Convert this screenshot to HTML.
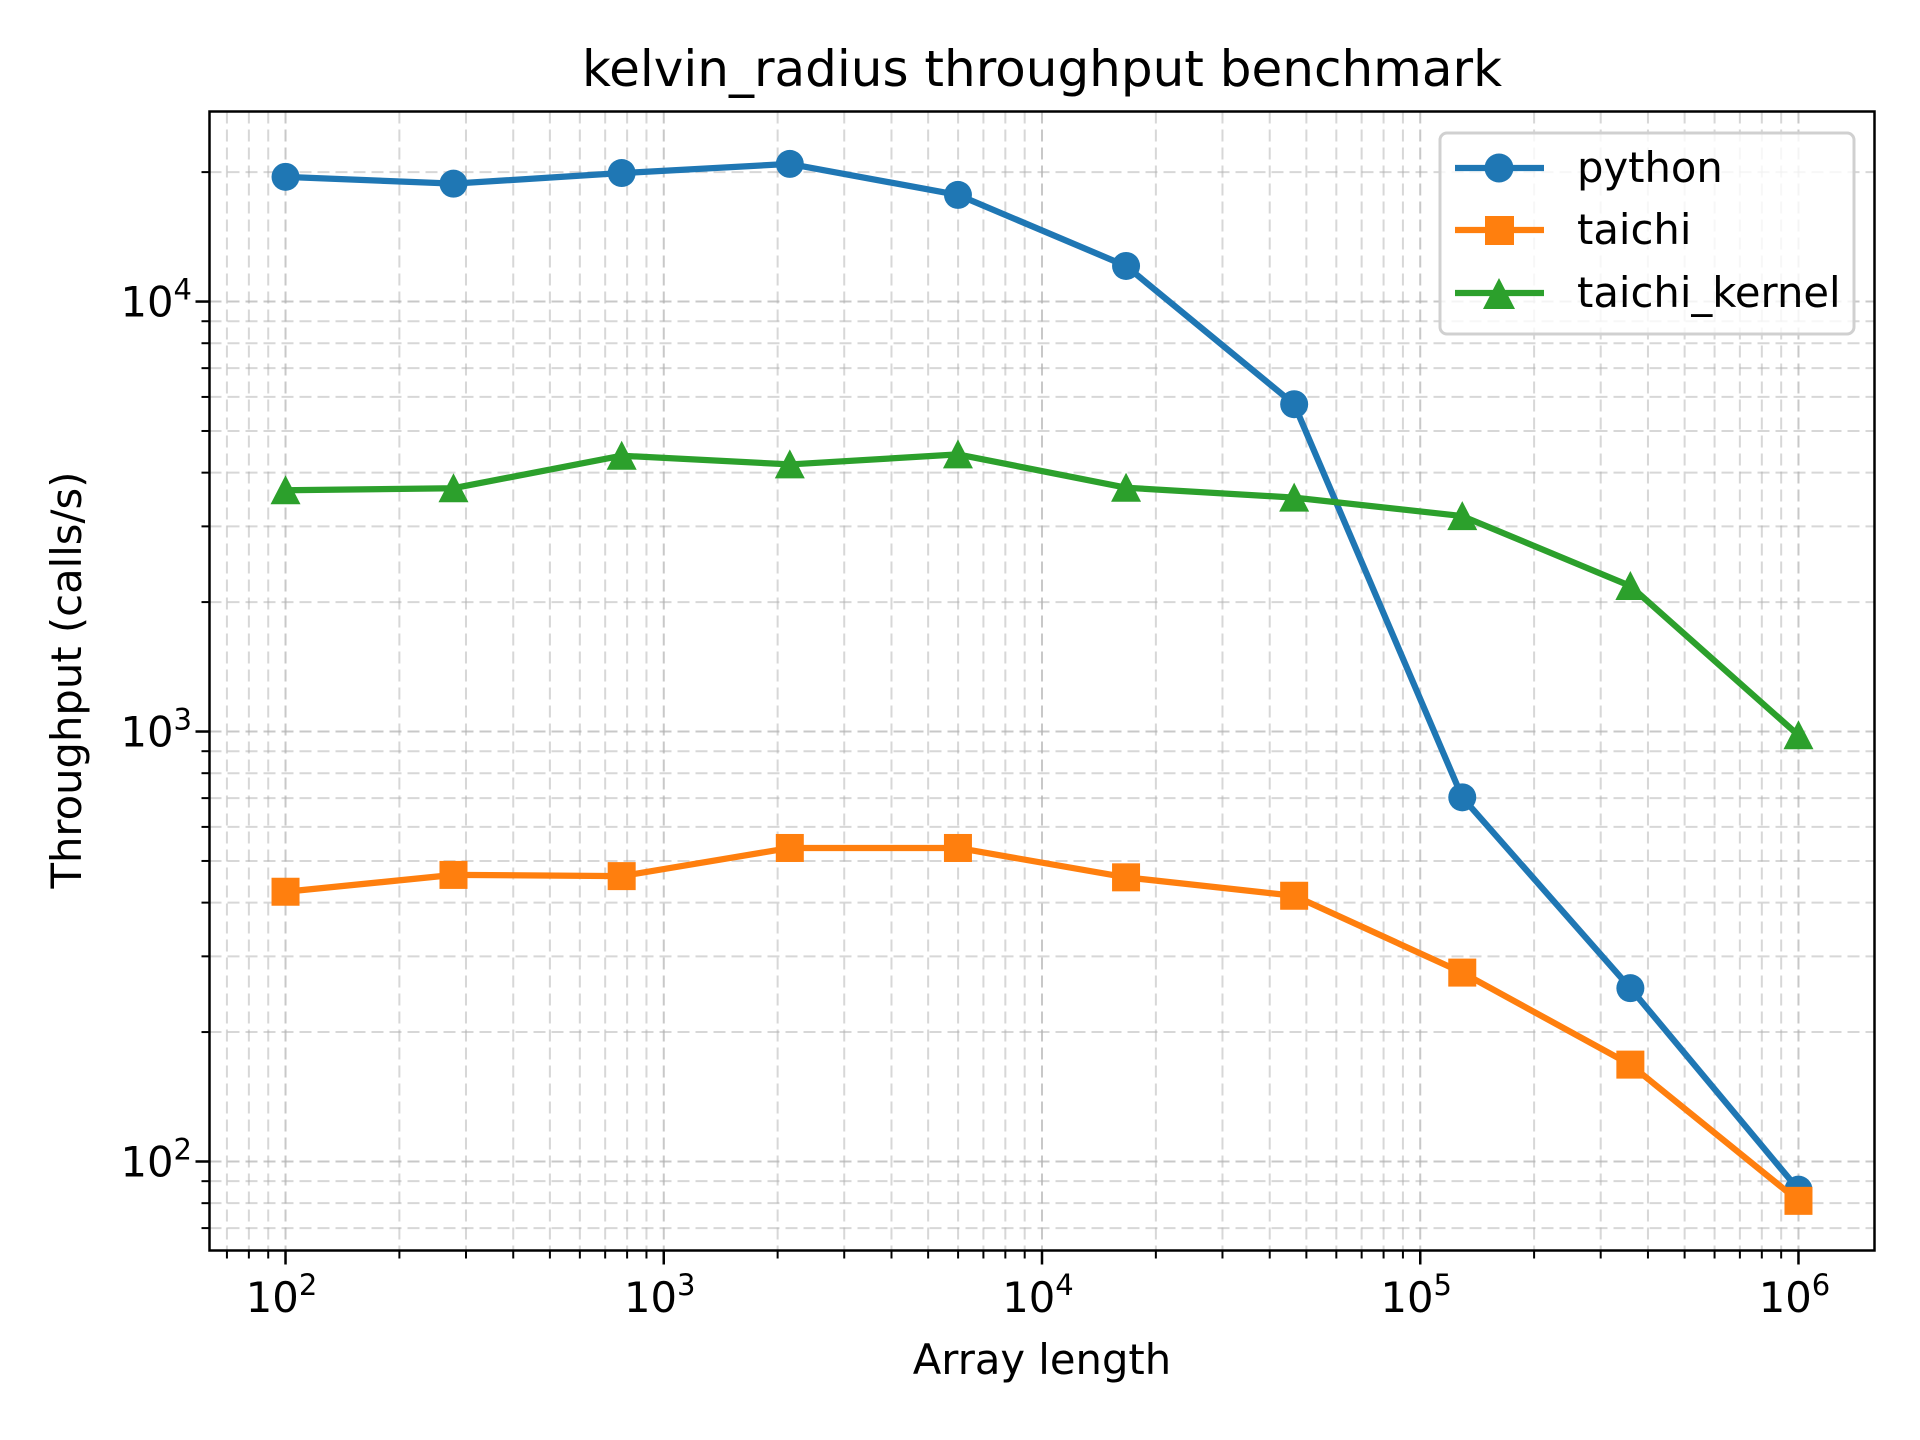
<!DOCTYPE html>
<html><head><meta charset="utf-8"><style>
html,body{margin:0;padding:0;background:#fff;}
svg{display:block;font-family:"DejaVu Sans","Liberation Sans",sans-serif;}
</style></head><body>
<svg id="chart" width="1920" height="1440" viewBox="0 0 1920 1440" xmlns="http://www.w3.org/2000/svg">
<rect width="1920" height="1440" fill="#fff"/>
<g id="grid"></g>
<g id="series"></g>
<rect x="209.5" y="111.5" width="1665" height="1139" fill="none" stroke="#000" stroke-width="2.5"/>
<g id="ticks"></g>
<text x="1042" y="86" font-size="50" text-anchor="middle">kelvin_radius throughput benchmark</text>
<text x="1042" y="1374" font-size="41.7" text-anchor="middle">Array length</text>
<text transform="translate(81,680) rotate(-90)" font-size="41.7" text-anchor="middle">Throughput (calls/s)</text>
<g>
<rect x="1440" y="133" width="414" height="201" rx="7" fill="#fff" fill-opacity="0.8" stroke="#d0d0d0" stroke-width="3"/>
<g>
<line x1="1455" y1="168" x2="1544" y2="168" stroke="#1f77b4" stroke-width="6.25"/><circle cx="1499" cy="168" r="14.5" fill="#1f77b4"/>
<text x="1577" y="182" font-size="41.7">python</text></g>
<g>
<line x1="1455" y1="230" x2="1544" y2="230" stroke="#ff7f0e" stroke-width="6.25"/><rect x="1485" y="216" width="29" height="29" fill="#ff7f0e"/>
<text x="1577" y="244" font-size="41.7">taichi</text></g>
<g>
<line x1="1455" y1="293" x2="1544" y2="293" stroke="#2ca02c" stroke-width="6.25"/><polygon points="1499,278 1515,309 1483,309" fill="#2ca02c"/>
<text x="1577" y="307" font-size="41.7">taichi_kernel</text></g>
</g>
</svg>
<script>
const xValues = [100, 278, 774, 2154, 5995, 16681, 46416, 129155, 359381, 1000000];
const pythonValues = [19500, 18800, 19900, 20900, 17700, 12100, 5770, 703, 253, 86];
const taichiValues = [424, 464, 461, 536, 536, 458, 415, 275, 168, 81];
const kernelValues = [3640, 3680, 4380, 4180, 4410, 3690, 3500, 3170, 2180, 980];
const xTickExps = [2, 3, 4, 5, 6];
const yTickExps = [2, 3, 4];

const L=209.5,R=1874.5,T=111.5,B=1250.5;
const xmin=1.799,xmax=6.201,ymin=1.793,ymax=4.442;
function xs(v){return L+(Math.log10(v)-xmin)/(xmax-xmin)*(R-L);}
function ys(v){return B-(Math.log10(v)-ymin)/(ymax-ymin)*(B-T);}
const NS="http://www.w3.org/2000/svg";
function mk(tag,attrs,parent){const e=document.createElementNS(NS,tag);for(const k in attrs)e.setAttribute(k,attrs[k]);parent.appendChild(e);return e;}
const grid=document.getElementById('grid'),ticks=document.getElementById('ticks'),series=document.getElementById('series');
for(let d=1;d<=6;d++)for(let m=1;m<10;m++){const v=m*Math.pow(10,d);const x=xs(v);if(x<L||x>R)continue;
 const g=mk('line',{x1:x,x2:x,y1:T,y2:B,stroke:'#b0b0b0','stroke-opacity':m===1?0.7:0.5,'stroke-width':2,'stroke-dasharray':'12,6'},grid);
 
 const t=mk('line',{x1:x,x2:x,y1:B,y2:B+(m===1?14:8),stroke:'#000','stroke-width':m===1?2.5:2},ticks);
 }
for(let d=1;d<=4;d++)for(let m=1;m<10;m++){const v=m*Math.pow(10,d);const y=ys(v);if(y<T||y>B)continue;
 const g=mk('line',{x1:L,x2:R,y1:y,y2:y,stroke:'#b0b0b0','stroke-opacity':m===1?0.7:0.5,'stroke-width':2,'stroke-dasharray':'12,6'},grid);
 
 const t=mk('line',{x1:L,x2:L-(m===1?14:8),y1:y,y2:y,stroke:'#000','stroke-width':m===1?2.5:2},ticks);
 }
xTickExps.forEach(e=>{const x=xs(Math.pow(10,e));const t=mk('text',{x:x-4,y:1312,'font-size':41.7,'text-anchor':'middle'},ticks);
 
 t.innerHTML='10<tspan dy="-17" font-size="29">'+e+'</tspan>';});
yTickExps.forEach(e=>{const y=ys(Math.pow(10,e));const t=mk('text',{x:192,y:y+15,'font-size':41.7,'text-anchor':'end'},ticks);
 
 t.innerHTML='10<tspan dy="-17" font-size="29">'+e+'</tspan>';});
function draw(vals,color,shape,name){
 const g=mk('g',{},series);
 
 
 const pts=vals.map((v,i)=>xs(xValues[i])+','+ys(v)).join(' ');
 const pl=mk('polyline',{points:pts,fill:'none',stroke:color,'stroke-width':6.25,'stroke-linejoin':'round'},g);
 
 vals.forEach((v,i)=>{const x=xs(xValues[i]),y=ys(v);let m;
  if(shape==='c')m=mk('circle',{cx:x,cy:y,r:14,fill:color},g);
  else if(shape==='s')m=mk('rect',{x:x-14,y:y-14,width:28,height:28,fill:color},g);
  else m=mk('polygon',{points:`${x},${y-15} ${x+15},${y+14} ${x-15},${y+14}`,fill:color},g);
  });
}
draw(pythonValues,'#1f77b4','c','python');
draw(taichiValues,'#ff7f0e','s','taichi');
draw(kernelValues,'#2ca02c','t','taichi-kernel');
</script>
</body></html>
